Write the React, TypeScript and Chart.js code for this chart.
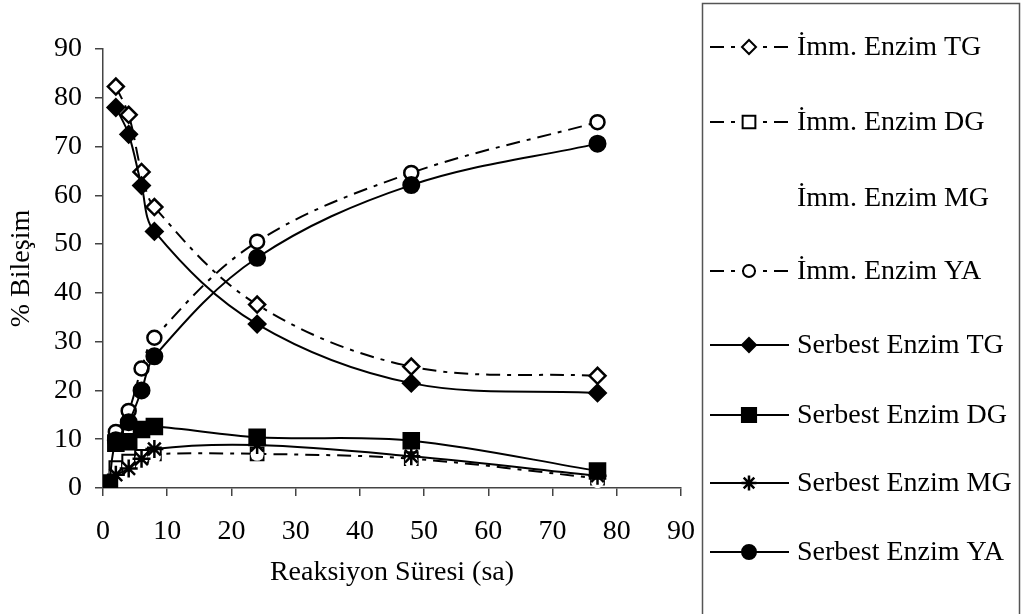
import React, { useEffect, useRef } from "react";
import { Chart, registerables } from "chart.js";

Chart.register(...registerables);

// ---- data ----
const timeH = [2, 4, 6, 8, 24, 48, 77];
const timeSerbestDG = [1, 2, 4, 6, 8, 24, 48, 77];

const immTG = [82.3, 76.5, 64.8, 57.6, 37.6, 24.9, 23.0];
const immDG = [4.2, 5.5, 6.5, 7.0, 7.0, 6.0, 2.0];
const immMG = [3.0, 4.5, 6.0, 6.4, 6.9, 5.4, 1.3];
const immYA = [11.5, 15.8, 24.5, 30.8, 50.5, 64.6, 75.0];

const serTG = [78.0, 72.5, 62.0, 52.6, 33.6, 21.5, 19.5];
const serDG = [1.0, 9.2, 9.5, 12.0, 12.6, 10.4, 9.7, 3.5];
const serMG = [2.7, 4.0, 6.0, 8.0, 8.8, 6.5, 2.5];
const serYA = [9.8, 13.5, 20.0, 27.0, 47.2, 62.1, 70.6];

const xTickValues = [0, 10, 20, 30, 40, 50, 60, 70, 80, 90];
const yTickValues = [0, 10, 20, 30, 40, 50, 60, 70, 80, 90];

const legendLabels = [
  "İmm. Enzim TG",
  "İmm. Enzim DG",
  "İmm. Enzim MG",
  "İmm. Enzim YA",
  "Serbest Enzim TG",
  "Serbest Enzim DG",
  "Serbest Enzim MG",
  "Serbest Enzim YA",
];
const xTitle = "Reaksiyon Süresi (sa)";
const yTitle = "% Bileşim";

const FONT = "'Liberation Serif', 'Times New Roman', serif";
const FS = 28;
const DASH = [14, 7, 4, 7];
const LEGEND_ROWS = [47, 122, 198, 271, 345, 415, 483, 552];

type Mk = { style: string; r: number; filled: boolean; line: "dash" | "solid" | "none"; show: boolean };
const legendMarks: Mk[] = [
  { style: "rectRot", r: 7, filled: false, line: "dash", show: true },
  { style: "rect", r: 9, filled: false, line: "dash", show: true },
  { style: "none", r: 0, filled: false, line: "none", show: false },
  { style: "circle", r: 6, filled: false, line: "dash", show: true },
  { style: "rectRot", r: 7, filled: true, line: "solid", show: true },
  { style: "rect", r: 10, filled: true, line: "solid", show: true },
  { style: "star", r: 7.5, filled: false, line: "solid", show: true },
  { style: "circle", r: 7, filled: true, line: "solid", show: true },
];

function drawMark(ctx: CanvasRenderingContext2D, m: Mk, x: number, y: number) {
  ctx.save();
  ctx.setLineDash([]);
  ctx.lineWidth = 2;
  ctx.strokeStyle = "#000";
  ctx.fillStyle = m.filled ? "#000" : "#fff";
  ctx.beginPath();
  if (m.style === "rectRot") {
    ctx.moveTo(x, y - m.r);
    ctx.lineTo(x + m.r, y);
    ctx.lineTo(x, y + m.r);
    ctx.lineTo(x - m.r, y);
    ctx.closePath();
    ctx.fill();
    ctx.stroke();
  } else if (m.style === "rect") {
    const s = m.r * Math.SQRT1_2;
    ctx.rect(x - s, y - s, 2 * s, 2 * s);
    ctx.fill();
    ctx.stroke();
  } else if (m.style === "circle") {
    ctx.arc(x, y, m.r, 0, Math.PI * 2);
    ctx.fill();
    ctx.stroke();
  } else if (m.style === "star") {
    ctx.lineWidth = 2.5;
    for (let k = 0; k < 4; k++) {
      const a = (k * Math.PI) / 4;
      ctx.moveTo(x - Math.cos(a) * m.r, y - Math.sin(a) * m.r);
      ctx.lineTo(x + Math.cos(a) * m.r, y + Math.sin(a) * m.r);
    }
    ctx.stroke();
  }
  ctx.restore();
}

const legendPlugin = {
  id: "customLegend",
  afterDraw(chart: any) {
    const ctx: CanvasRenderingContext2D = chart.ctx;
    ctx.save();
    ctx.strokeStyle = "#555";
    ctx.lineWidth = 1.5;
    ctx.strokeRect(702.5, 3.5, 317, 700);
    ctx.font = `${FS}px ${FONT}`;
    ctx.fillStyle = "#000";
    ctx.textBaseline = "middle";
    ctx.textAlign = "left";
    legendLabels.forEach((label, i) => {
      const y = LEGEND_ROWS[i];
      const m = legendMarks[i];
      if (m.line !== "none") {
        ctx.save();
        ctx.strokeStyle = "#000";
        ctx.lineWidth = 2;
        ctx.setLineDash(m.line === "dash" ? DASH : []);
        ctx.beginPath();
        ctx.moveTo(710, y);
        ctx.lineTo(789, y);
        ctx.stroke();
        ctx.restore();
      }
      if (m.show) drawMark(ctx, m, 749, y);
      ctx.fillText(label, 797, y + 1);
    });
    ctx.restore();
  },
};

const xy = (xs: number[], ys: number[]) => xs.map((x, i) => ({ x, y: ys[i] }));

export default function App() {
  const ref = useRef<HTMLCanvasElement>(null);
  useEffect(() => {
    const base = { tension: 0.35, borderColor: "#000", borderWidth: 2, pointBorderColor: "#000", pointBorderWidth: 2 };
    const datasets: any[] = [
      { ...base, label: legendLabels[0], data: xy(timeH, immTG), borderDash: DASH, pointStyle: "rectRot", pointRadius: 8, pointBorderWidth: 2.5, pointBackgroundColor: "#fff", order: 6 },
      { ...base, label: legendLabels[1], data: xy(timeH, immDG), borderDash: DASH, pointStyle: "rect", pointRadius: 9, pointBackgroundColor: "#fff", order: 8 },
      { ...base, label: legendLabels[2], data: xy(timeH, immMG), showLine: false, pointStyle: "circle", pointRadius: 6.5, pointBorderWidth: 0, pointBackgroundColor: "#fff", order: 7 },
      { ...base, label: legendLabels[3], data: xy(timeH, immYA), borderDash: DASH, pointStyle: "circle", pointRadius: 7, pointBorderWidth: 2.5, pointBackgroundColor: "#fff", order: 5 },
      { ...base, label: legendLabels[4], data: xy(timeH, serTG), pointStyle: "rectRot", pointRadius: 8.5, pointBackgroundColor: "#000", order: 4 },
      { ...base, label: legendLabels[5], data: xy(timeSerbestDG, serDG), pointStyle: "rect", pointRadius: 11, pointBackgroundColor: "#000", order: 3 },
      { ...base, label: legendLabels[6], data: xy(timeH, serMG), pointStyle: "star", pointRadius: 9, pointBorderWidth: 2.5, pointBackgroundColor: "#000", order: 2 },
      { ...base, label: legendLabels[7], data: xy(timeH, serYA), pointStyle: "circle", pointRadius: 8, pointBackgroundColor: "#000", order: 1 },
    ];
    const axisCommon = (vals: number[]) => ({
      type: "linear" as const,
      min: 0,
      max: 90,
      afterBuildTicks: (s: any) => {
        s.ticks = vals.map((v) => ({ value: v }));
      },
      border: { display: true, color: "#444", width: 1.5 },
      grid: { drawOnChartArea: false, drawTicks: true, tickLength: 8, tickColor: "#444", lineWidth: 1.5 },
    });
    const chart = new Chart(ref.current as HTMLCanvasElement, {
      type: "line",
      data: { datasets },
      plugins: [legendPlugin],
      options: {
        animation: false,
        responsive: false,
        events: [],
        layout: { padding: { left: 0, top: 49, right: 340, bottom: 0 } },
        plugins: { legend: { display: false }, tooltip: { enabled: false } },
        scales: {
          x: {
            ...axisCommon(xTickValues),
            position: "bottom",
            afterFit: (s: any) => {
              s.height = 126;
            },
            ticks: { color: "#000", padding: 19, maxRotation: 0, font: { family: FONT, size: FS } },
            title: { display: true, text: xTitle, color: "#000", font: { family: FONT, size: FS }, padding: { top: 0, bottom: 25 } },
          },
          y: {
            ...axisCommon(yTickValues),
            position: "left",
            afterFit: (s: any) => {
              s.width = 103;
            },
            ticks: { color: "#000", padding: 13, font: { family: FONT, size: FS } },
            title: { display: true, text: yTitle, color: "#000", font: { family: FONT, size: FS }, padding: { top: 5, bottom: 0 } },
          },
        },
      } as any,
    });
    return () => chart.destroy();
  }, []);
  return (
    <div style={{ position: "fixed", left: 0, top: 0, width: 1021, height: 614, background: "#fff" }}>
      <canvas ref={ref} width={1021} height={614} style={{ display: "block", width: 1021, height: 614 }} />
    </div>
  );
}
